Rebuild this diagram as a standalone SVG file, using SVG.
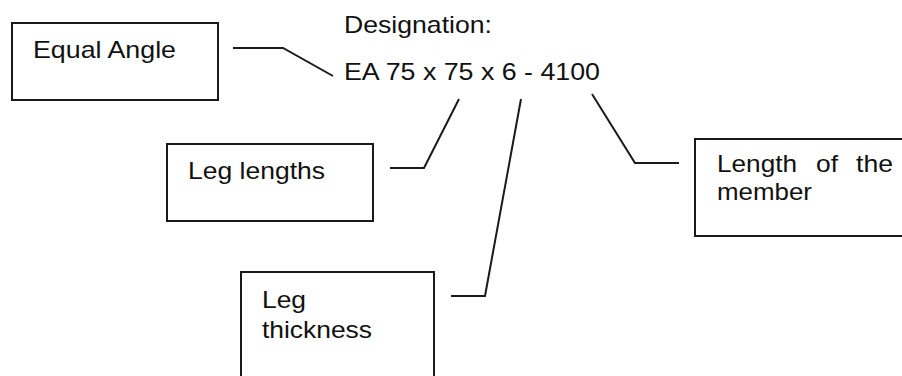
<svg xmlns="http://www.w3.org/2000/svg" width="902" height="376" viewBox="0 0 902 376">
<style>
.box{fill:#fff;stroke:#1a1a1a;stroke-width:2}
.t{font-family:"Liberation Sans",Arial,sans-serif;font-size:24px;fill:#111}
.c{fill:none;stroke:#1a1a1a;stroke-width:2}
</style>
<rect width="902" height="376" fill="#fff"/>
<g id="designation">
<text class="t" x="344" y="33" textLength="148" lengthAdjust="spacingAndGlyphs">Designation:</text>
<text class="t" x="344" y="80" textLength="256" lengthAdjust="spacingAndGlyphs">EA 75 x 75 x 6 - 4100</text>
</g>
<g id="equal-angle">
<rect class="box" x="12" y="23" width="206" height="77"/>
<text class="t" x="33" y="58" textLength="143" lengthAdjust="spacingAndGlyphs">Equal Angle</text>
</g>
<g id="leg-lengths">
<rect class="box" x="167" y="144" width="206" height="77"/>
<text class="t" x="188" y="179" textLength="137" lengthAdjust="spacingAndGlyphs">Leg lengths</text>
</g>
<g id="leg-thickness">
<rect class="box" x="241" y="272" width="193" height="120"/>
<text class="t" x="262" y="308" textLength="44" lengthAdjust="spacingAndGlyphs">Leg</text>
<text class="t" x="262" y="338" textLength="110" lengthAdjust="spacingAndGlyphs">thickness</text>
</g>
<g id="length-member">
<rect class="box" x="695" y="139" width="220" height="97"/>
<text class="t" y="172"><tspan x="717" textLength="80" lengthAdjust="spacingAndGlyphs">Length</tspan><tspan x="816" textLength="22" lengthAdjust="spacingAndGlyphs">of</tspan><tspan x="856" textLength="37" lengthAdjust="spacingAndGlyphs">the</tspan></text>
<text class="t" x="717" y="200" textLength="95" lengthAdjust="spacingAndGlyphs">member</text>
</g>
<g id="connectors">
<polyline class="c" points="233,48 283,48 333,76"/>
<polyline class="c" points="390,168 424,168 459,99"/>
<polyline class="c" points="521,99 485,296 451,296"/>
<polyline class="c" points="592,94 635,163 679,163"/>
</g>
</svg>
